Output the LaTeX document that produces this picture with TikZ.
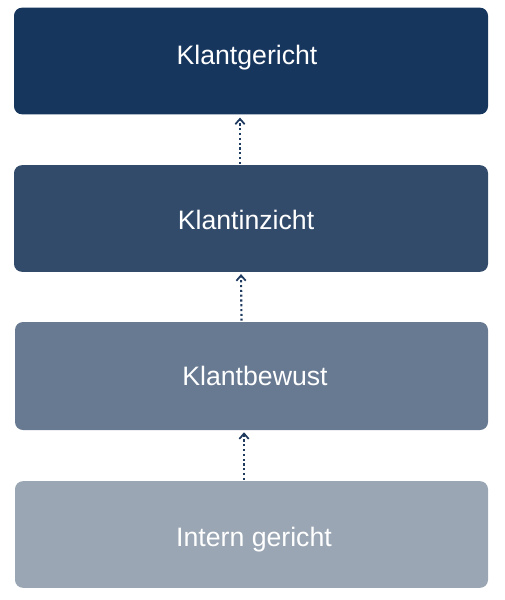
\documentclass[tikz,border=0pt]{standalone}
\usepackage{fontspec}
\setmainfont{Liberation Sans}
\usetikzlibrary{arrows.meta}
\definecolor{c1}{HTML}{17365D}
\definecolor{c2}{HTML}{324B6A}
\definecolor{c3}{HTML}{687A91}
\definecolor{c4}{HTML}{9AA6B4}
\definecolor{arr}{HTML}{1F3A5F}
\begin{document}
\begin{tikzpicture}[x=0.75pt,y=-0.75pt,
  box/.style={rounded corners=6pt,inner sep=0pt,draw=none,minimum width=355.5pt,minimum height=80pt},
  level/.style={inner sep=0pt,text=white,font=\fontsize{20}{24}\selectfont},
  link/.style={draw=arr,line width=1.6pt,dotted,-{Straight Barb[length=4pt,width=7pt,line width=1.3pt]}}]
\useasboundingbox (0,0) rectangle (504,600);
\node[box,fill=c1] (b1) at (251,61) {};
\node[box,fill=c2] (b2) at (251,218.5) {};
\node[box,fill=c3,minimum width=354.75pt,minimum height=81pt] (b3) at (251.5,376) {};
\node[box,fill=c4,minimum width=354.75pt] (b4) at (251.5,534.5) {};
\node[level] (k1) at (247,58) {Klantgericht};
\node[level] (k2) at (246,220) {Klantinzicht};
\node[level] (k3) at (255,376) {Klantbewust};
\node[level] (k4) at (254,540) {Intern gericht};
\draw[link] ([xshift=-8.25pt,yshift=0.75pt]b2.north) -- ([xshift=-8.25pt,yshift=-2.25pt]b1.south);
\draw[link] ([xshift=-7.5pt,yshift=0.75pt]b3.north) -- ([xshift=-7.5pt,yshift=-1.5pt]b2.south);
\draw[link] ([xshift=-5.6pt,yshift=0.75pt]b4.north) -- ([xshift=-5.6pt,yshift=-1.5pt]b3.south);
\end{tikzpicture}
\end{document}
